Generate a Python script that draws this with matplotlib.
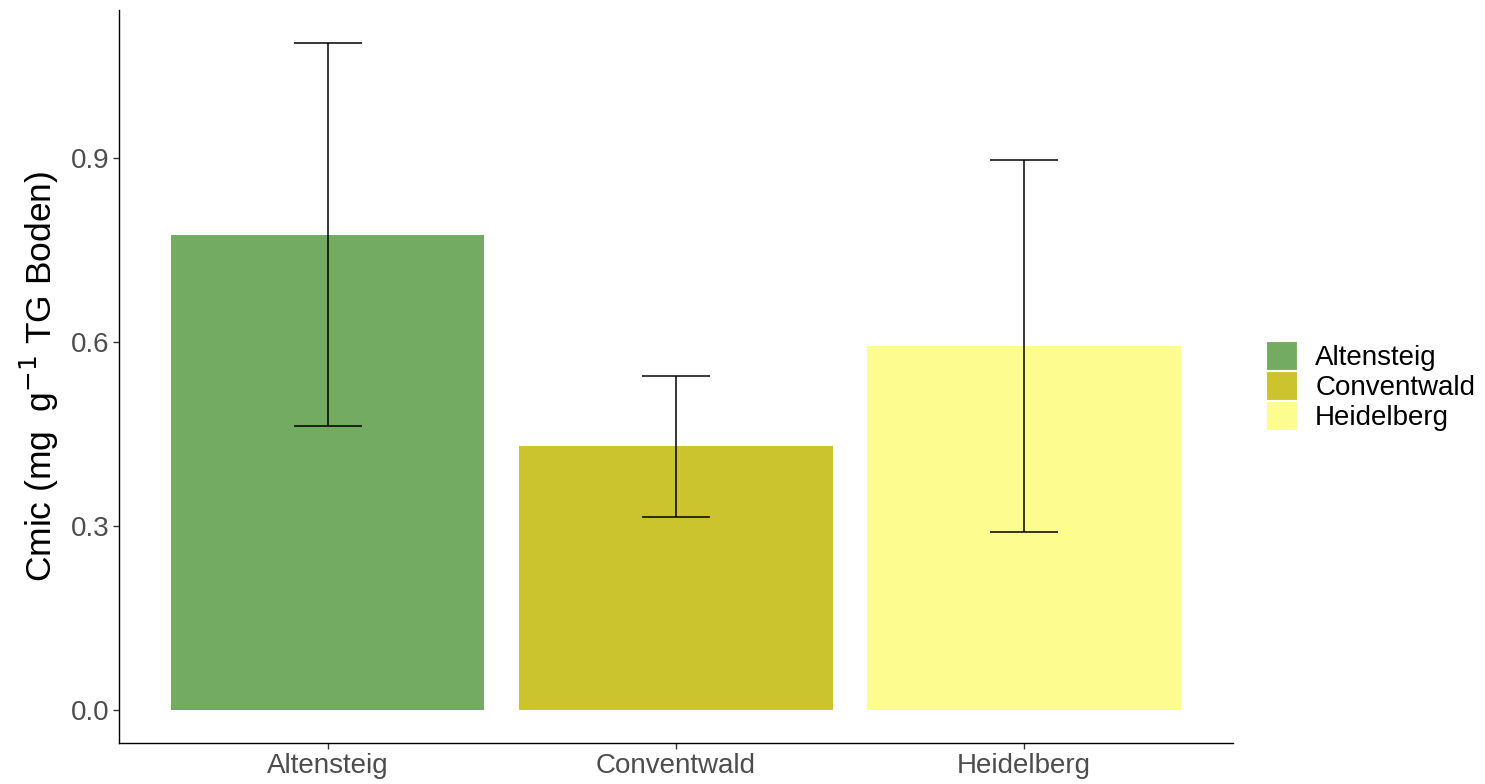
import matplotlib
matplotlib.use('Agg')
import matplotlib.pyplot as plt
from matplotlib.patches import Patch
import numpy as np

plt.rcParams['font.family'] = ['Liberation Sans', 'DejaVu Sans']

# data
sites = ['Altensteig', 'Conventwald', 'Heidelberg']
cmic_mean = [0.775, 0.430, 0.593]
cmic_sd = [0.312, 0.115, 0.303]
colors = ['#73AB62', '#CBC42F', '#FDFD8F']

TICK_GRAY = '#4D4D4D'

fig = plt.figure(figsize=(14.85, 7.84), dpi=100)
ax = fig.add_axes([0.0801, 0.0523, 0.7502, 0.9347])

x = np.arange(1, len(sites) + 1)
ax.bar(x, cmic_mean, width=0.9, color=colors, zorder=1)
ax.errorbar(x, cmic_mean, yerr=cmic_sd, fmt='none', ecolor='black',
            elinewidth=1.1, capsize=24.8, capthick=1.1, zorder=2)

ax.set_xlim(0.4, 3.6)
ax.set_ylim(-0.054, 1.141)
ax.set_xticks(x)
ax.set_xticklabels(sites)
ax.set_yticks([0.0, 0.3, 0.6, 0.9])
ax.set_yticklabels(['0.0', '0.3', '0.6', '0.9'])
ax.tick_params(axis='both', labelsize=20, labelcolor=TICK_GRAY, color='#333333',
               length=4, width=1.0, pad=3)

for side in ['top', 'right']:
    ax.spines[side].set_visible(False)
for side in ['left', 'bottom']:
    ax.spines[side].set_linewidth(1.0)
    ax.spines[side].set_color('black')

ax.set_ylabel(r'Cmic (mg  g$^{-1}$ TG Boden)', fontsize=25.5, labelpad=7)

handles = [Patch(facecolor=c, edgecolor='white', linewidth=0.8) for c in colors]
fig.legend(handles, sites, loc='center left', bbox_to_anchor=(0.8525, 0.5077),
           frameon=False, fontsize=20, handlelength=1.12, handleheight=1.25,
           handletextpad=0.65, labelspacing=0.0, borderpad=0, borderaxespad=0)

fig.savefig('out.png', dpi=100, facecolor='white')
